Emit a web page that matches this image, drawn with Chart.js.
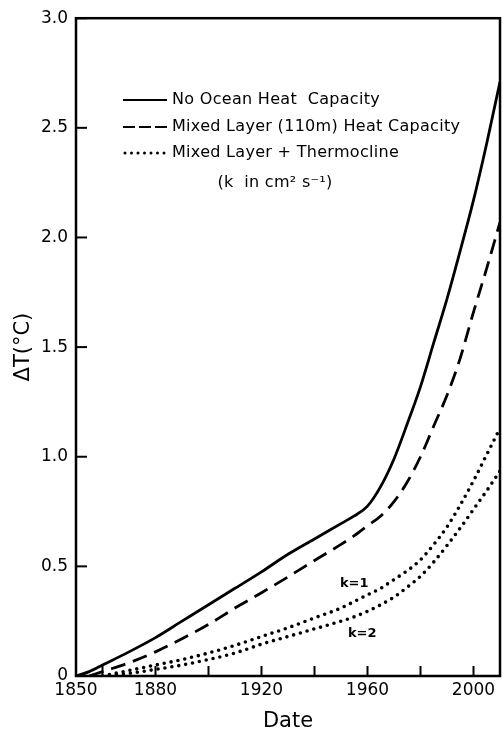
<!DOCTYPE html>
<html lang="en">

<head>
    <meta charset="UTF-8">
    <title>Delta T vs Date</title>
    <script src="https://cdn.jsdelivr.net/npm/chart.js"></script>
    <style>
        body { margin: 0; background: #fff; }
        #wrap { width: 503px; height: 733px; }
    </style>
</head>

<body>
    <div id="wrap">
        <canvas id="tempChart" width="503" height="733"></canvas>
    </div>

    <script>
        // anys (eix x)
        const years = [1850, 1855, 1860, 1870, 1880, 1890, 1900, 1910, 1920, 1930, 1940, 1950,
            1955, 1960, 1965, 1970, 1975, 1980, 1985, 1990, 1995, 2000, 2005, 2010];

        // series llegides de la figura
        const noOcean = [0, 0.02, 0.05, 0.11, 0.175, 0.25, 0.325, 0.40, 0.475, 0.555, 0.625, 0.695,
            0.73, 0.775, 0.865, 0.99, 1.15, 1.32, 1.52, 1.72, 1.94, 2.17, 2.43, 2.71];
        const mixedLayer = [null, 0, 0.02, 0.06, 0.11, 0.17, 0.235, 0.31, 0.38, 0.452, 0.527, 0.60,
            0.64, 0.685, 0.73, 0.795, 0.885, 1.00, 1.14, 1.28, 1.45, 1.66, 1.86, 2.07];
        const thermoK1 = [null, null, 0, 0.025, 0.05, 0.075, 0.105, 0.14, 0.18, 0.22, 0.265, 0.31,
            0.34, 0.37, 0.40, 0.44, 0.48, 0.53, 0.60, 0.68, 0.78, 0.89, 1.01, 1.13];
        const thermoK2 = [null, null, 0, 0.012, 0.03, 0.05, 0.075, 0.105, 0.145, 0.18, 0.215, 0.25,
            0.27, 0.295, 0.325, 0.36, 0.405, 0.455, 0.52, 0.595, 0.675, 0.76, 0.845, 0.935];

        // ticks
        const xTicks = [1850, 1860, 1880, 1900, 1920, 1940, 1960, 1980, 2000];
        const xLabels = [1850, 1880, 1920, 1960, 2000];
        const yTicks = [0, 0.5, 1.0, 1.5, 2.0, 2.5, 3.0];

        const legendItems = ['No Ocean Heat  Capacity', 'Mixed Layer (110m) Heat Capacity', 'Mixed Layer + Thermocline'];

        const FONT = '"DejaVu Sans", sans-serif';

        function toPoints(vals) {
            return years.map((y, i) => ({ x: y, y: vals[i] }));
        }

        // marc, ticks interiors, llegenda i etiquetes k
        const framePlugin = {
            id: 'frame',
            afterDraw(chart) {
                const ctx = chart.ctx;
                const a = chart.chartArea;
                const xs = chart.scales.x, ys = chart.scales.y;
                ctx.save();
                ctx.strokeStyle = '#000';
                ctx.lineWidth = 2.5;
                ctx.strokeRect(a.left, a.top, a.right - a.left, a.bottom - a.top);

                ctx.lineWidth = 2;
                xTicks.forEach(v => {
                    const px = xs.getPixelForValue(v);
                    ctx.beginPath();
                    ctx.moveTo(px, a.bottom);
                    ctx.lineTo(px, a.bottom - 10);
                    ctx.stroke();
                });
                yTicks.forEach(v => {
                    const py = ys.getPixelForValue(v);
                    ctx.beginPath();
                    ctx.moveTo(a.left, py);
                    ctx.lineTo(a.left + 11, py);
                    ctx.stroke();
                });

                // llegenda
                const rows = [100, 127, 153];
                const dashes = [[], [12, 4], [0, 6.5]];
                ctx.fillStyle = '#000';
                ctx.font = '16px ' + FONT;
                ctx.letterSpacing = '0.3px';
                ctx.textBaseline = 'middle';
                ctx.textAlign = 'left';
                rows.forEach((ry, i) => {
                    ctx.save();
                    ctx.lineWidth = i == 2 ? 3 : 2;
                    ctx.lineCap = i == 2 ? 'round' : 'butt';
                    ctx.setLineDash(dashes[i]);
                    ctx.beginPath();
                    ctx.moveTo(i == 2 ? 125 : 123, ry);
                    ctx.lineTo(167, ry);
                    ctx.stroke();
                    ctx.restore();
                    ctx.fillText(legendItems[i], 172, ry);
                });
                ctx.textAlign = 'center';
                ctx.fillText('(k  in cm\u00B2 s\u207B\u00B9)', 275, 183);

                // etiquetes k
                ctx.font = 'bold 13px ' + FONT;
                ctx.letterSpacing = '0px';
                ctx.fillText('k=1', xs.getPixelForValue(1955), ys.getPixelForValue(0.42));
                ctx.fillText('k=2', xs.getPixelForValue(1958), ys.getPixelForValue(0.195));
                ctx.restore();
            }
        };

        const ctx = document.getElementById('tempChart').getContext('2d');
        const chart = new Chart(ctx, {
            type: 'line',
            data: {
                datasets: [
                    { label: legendItems[0], data: toPoints(noOcean), borderColor: '#000', borderWidth: 2.8 },
                    { label: legendItems[1], data: toPoints(mixedLayer), borderColor: '#000', borderWidth: 2.8, borderDash: [15, 8] },
                    { label: 'k=1', data: toPoints(thermoK1), borderColor: '#000', borderWidth: 3.6, borderDash: [0, 7], borderCapStyle: 'round' },
                    { label: 'k=2', data: toPoints(thermoK2), borderColor: '#000', borderWidth: 3.6, borderDash: [0, 7], borderCapStyle: 'round' }
                ]
            },
            options: {
                responsive: false,
                animation: false,
                devicePixelRatio: 1,
                layout: { padding: { top: 16, right: 3, left: 0, bottom: 0 } },
                elements: {
                    point: { radius: 0 },
                    line: { cubicInterpolationMode: 'monotone', fill: false }
                },
                plugins: {
                    legend: { display: false },
                    tooltip: { enabled: false }
                },
                scales: {
                    x: {
                        type: 'linear',
                        min: 1850,
                        max: 2010,
                        grid: { display: false, drawTicks: false },
                        border: { display: false },
                        afterBuildTicks: scale => { scale.ticks = xTicks.map(v => ({ value: v })); },
                        afterFit: scale => { scale.height = 57; },
                        ticks: {
                            autoSkip: false,
                            maxRotation: 0,
                            padding: 4,
                            color: '#000',
                            font: { family: FONT, size: 17 },
                            callback: v => xLabels.includes(v) ? String(v) : ''
                        },
                        title: {
                            display: true,
                            text: 'Date',
                            color: '#000',
                            font: { family: FONT, size: 21, lineHeight: 1 },
                            padding: { top: 0, bottom: 1 }
                        }
                    },
                    y: {
                        min: 0,
                        max: 3,
                        grid: { display: false, drawTicks: false },
                        border: { display: false },
                        afterBuildTicks: scale => { scale.ticks = yTicks.map(v => ({ value: v })); },
                        afterFit: scale => { scale.width = 76; },
                        ticks: {
                            padding: 8,
                            color: '#000',
                            font: { family: FONT, size: 17 },
                            callback: v => v == 0 ? '0' : v.toFixed(1)
                        },
                        title: {
                            display: true,
                            text: '\u0394T(\u00B0C)',
                            color: '#000',
                            font: { family: FONT, size: 21, lineHeight: 1 },
                            padding: { top: 13, bottom: 0 }
                        }
                    }
                }
            },
            plugins: [framePlugin]
        });
    </script>
</body>

</html>
